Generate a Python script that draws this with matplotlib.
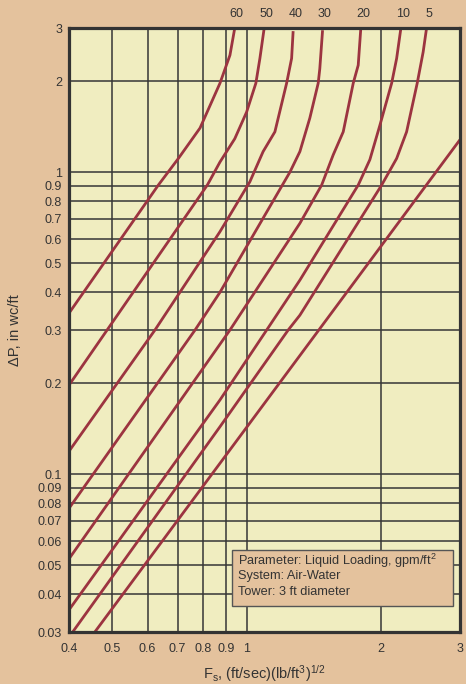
#Packed tower pressure drop chart (log-log), air-water, 3 ft tower
import numpy as np
import matplotlib.pyplot as plt
from matplotlib.ticker import FixedLocator, FixedFormatter, NullLocator
from matplotlib.patches import Rectangle

plt.rcParams['font.family'] = ['Liberation Sans', 'DejaVu Sans']
plt.rcParams['mathtext.default'] = 'regular'

#curve data: F_s (x) and dP in wc/ft (y)
x60 = [0.40, 0.634, 0.703, 0.786, 0.871, 0.917, 0.940]
y60 = [0.341, 0.906, 1.11, 1.40, 1.97, 2.44, 3.0]
x50 = [0.40, 0.816, 0.871, 0.940, 0.999, 1.048, 1.070, 1.094]
y50 = [0.197, 0.906, 1.08, 1.29, 1.58, 1.97, 2.38, 3.0]
x40 = [0.40, 0.623, 0.871, 1.016, 1.088, 1.156, 1.228, 1.260, 1.270]
y40 = [0.119, 0.30, 0.635, 0.929, 1.17, 1.36, 1.97, 2.38, 2.93]
x30 = [0.40, 0.766, 0.871, 1.249, 1.315, 1.384, 1.445, 1.457, 1.478]
y30 = [0.077, 0.30, 0.40, 1.0, 1.17, 1.51, 1.97, 2.20, 2.95]
x20 = [0.40, 0.917, 1.315, 1.471, 1.561, 1.644, 1.731, 1.776, 1.800]
y20 = [0.0524, 0.30, 0.677, 0.906, 1.14, 1.36, 1.97, 2.26, 3.0]
x10 = [0.40, 0.871, 1.108, 1.315, 1.776, 1.886, 1.986, 2.110, 2.165, 2.213]
y10 = [0.0355, 0.176, 0.30, 0.439, 0.906, 1.10, 1.43, 1.97, 2.38, 3.0]
x5 = [0.4077, 0.871, 1.238, 1.315, 2.004, 2.165, 2.279, 2.407, 2.482, 2.526]
y5 = [0.03, 0.1435, 0.30, 0.336, 0.906, 1.11, 1.36, 1.97, 2.50, 3.0]
x0 = [0.457, 3.0]
y0 = [0.03, 1.28]

curves = [(x60, y60, '60'), (x50, y50, '50'), (x40, y40, '40'), (x30, y30, '30'),
          (x20, y20, '20'), (x10, y10, '10'), (x5, y5, '5'), (x0, y0, None)]

xticks = [0.4, 0.5, 0.6, 0.7, 0.8, 0.9, 1, 2, 3]
xlabels = ['0.4', '0.5', '0.6', '0.7', '0.8', '0.9', '1', '2', '3']
yticks = [0.03, 0.04, 0.05, 0.06, 0.07, 0.08, 0.09, 0.1,
          0.2, 0.3, 0.4, 0.5, 0.6, 0.7, 0.8, 0.9, 1, 2, 3]
ylabels = ['0.03', '0.04', '0.05', '0.06', '0.07', '0.08', '0.09', '0.1',
           '0.2', '0.3', '0.4', '0.5', '0.6', '0.7', '0.8', '0.9', '1', '2', '3']

bg = '#E4C29D'
paper = '#F0EDC0'
red = '#9C3440'
ink = '#333333'

fig = plt.figure(figsize=(4.66, 6.84), dpi=100, facecolor=bg)
ax = fig.add_axes([0.148, 0.076, 0.839, 0.883])
ax.set_facecolor(paper)
ax.set_xscale('log')
ax.set_yscale('log')
ax.set_xlim(0.4, 3)
ax.set_ylim(0.03, 3)

ax.xaxis.set_major_locator(FixedLocator(xticks))
ax.xaxis.set_major_formatter(FixedFormatter(xlabels))
ax.xaxis.set_minor_locator(NullLocator())
ax.yaxis.set_major_locator(FixedLocator(yticks))
ax.yaxis.set_major_formatter(FixedFormatter(ylabels))
ax.yaxis.set_minor_locator(NullLocator())
ax.tick_params(axis='both', length=0, labelsize=9, colors=ink)
ax.tick_params(axis='x', pad=8)
ax.tick_params(axis='y', pad=5)
ax.grid(True, color='#363636', linewidth=1.1)
ax.set_axisbelow(True)
for s in ax.spines.values():
    s.set_color(ink)
    s.set_linewidth(2.3)

#curves
for xs, ys, lab in curves:
    ax.plot(xs, ys, color=red, linewidth=2.0, solid_capstyle='butt')
    if lab is not None:
        ax.annotate(lab, (xs[-1], 1.0), xycoords=('data', 'axes fraction'),
                    xytext=(1.5, 6), textcoords='offset points',
                    ha='center', va='bottom', fontsize=9, color=ink)

#parameter box
ax.add_patch(Rectangle((0.416, 0.043), 0.565, 0.093, transform=ax.transAxes,
                       facecolor=bg, edgecolor='#555555', linewidth=1.0, zorder=5))
box_lines = ['Parameter: Liquid Loading, gpm/ft$^{2}$', 'System: Air-Water', 'Tower: 3 ft diameter']
for i, t in enumerate(box_lines):
    ax.text(0.433, 0.117 - i*0.025, t, transform=ax.transAxes, fontsize=9.2,
            color=ink, va='center', ha='left', zorder=6)

ax.set_xlabel('F$_s$, (ft/sec)(lb/ft$^3$)$^{1/2}$', fontsize=10.5, color=ink, labelpad=5.5)
ax.set_ylabel('\u0394P, in wc/ft', fontsize=10.5, color=ink, labelpad=11)

plt.savefig('out.png', dpi=100, facecolor=bg)
